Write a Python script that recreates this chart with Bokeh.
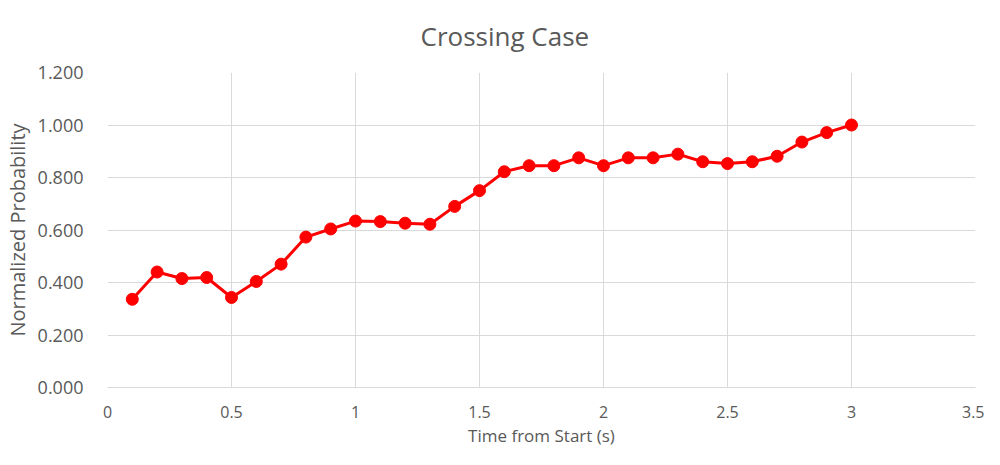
from bokeh.plotting import figure
from bokeh.models import Range1d, FixedTicker, NumeralTickFormatter
from bokeh.embed import file_html
from bokeh.resources import INLINE

time_s = [0.1, 0.2, 0.3, 0.4, 0.5, 0.6, 0.7, 0.8, 0.9, 1.0,
          1.1, 1.2, 1.3, 1.4, 1.5, 1.6, 1.7, 1.8, 1.9, 2.0,
          2.1, 2.2, 2.3, 2.4, 2.5, 2.6, 2.7, 2.8, 2.9, 3.0]
probability = [0.336, 0.440, 0.415, 0.419, 0.343, 0.404, 0.470, 0.573, 0.604, 0.634,
               0.632, 0.626, 0.622, 0.690, 0.750, 0.822, 0.845, 0.845, 0.875, 0.845,
               0.875, 0.875, 0.889, 0.860, 0.853, 0.860, 0.881, 0.935, 0.971, 1.000]
x_ticks = [0, 0.5, 1, 1.5, 2, 2.5, 3, 3.5]
y_ticks = [0, 0.2, 0.4, 0.6, 0.8, 1.0, 1.2]

GRAY_TXT = "#595959"
GRID = "#d9d9d9"
FONT = "Open Sans"

p = figure(width=984, height=449, output_backend="svg", toolbar_location=None,
           x_range=Range1d(0, 3.5), y_range=Range1d(0, 1.2),
           min_border_left=107, min_border_right=9, min_border_top=71, min_border_bottom=60)
p.outline_line_color = None

p.title.text = "Crossing Case"
p.title.align = "left"
p.title.vertical_align = "top"
p.title.offset = 313
p.title.standoff = 34
p.title.text_font = FONT
p.title.text_font_size = "26px"
p.title.text_font_style = "normal"
p.title.text_color = GRAY_TXT

p.xaxis.ticker = FixedTicker(ticks=x_ticks)
p.yaxis.ticker = FixedTicker(ticks=y_ticks)
p.xaxis.formatter = NumeralTickFormatter(format="0.[0]")
p.yaxis.formatter = NumeralTickFormatter(format="0.000")

for ax in (p.xaxis, p.yaxis):
    ax.major_tick_line_color = None
    ax.minor_tick_line_color = None
    ax.major_label_text_font = FONT
    ax.major_label_text_color = GRAY_TXT
    ax.axis_label_text_font = FONT
    ax.axis_label_text_font_style = "normal"
    ax.axis_label_text_color = GRAY_TXT
p.xaxis.major_label_text_font_size = "16px"
p.yaxis.major_label_text_font_size = "18px"
p.xaxis.axis_label_text_font_size = "17px"
p.yaxis.axis_label_text_font_size = "20px"
p.xaxis.axis_line_color = GRID
p.yaxis.axis_line_color = None
p.xaxis.axis_label = "Time from Start (s)"
p.yaxis.axis_label = "Normalized Probability"
p.xaxis.major_label_standoff = 12
p.yaxis.major_label_standoff = 18
p.xaxis.axis_label_standoff = 3
p.yaxis.axis_label_standoff = 4

p.grid.grid_line_color = GRID
p.grid.grid_line_width = 1

p.line(time_s, probability, line_color="#ff0000", line_width=3)
p.scatter(time_s, probability, size=12, fill_color="#ff0000", line_color="#ff0000")

open("out.html", "w").write(file_html(p, INLINE))
